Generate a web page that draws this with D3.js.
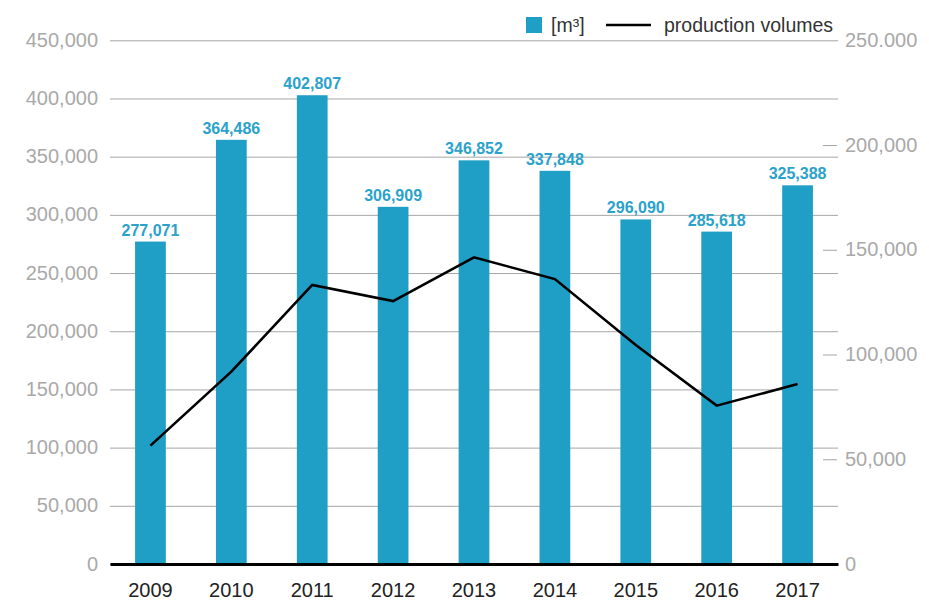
<!DOCTYPE html>
<html>
<head>
<meta charset="utf-8">
<script src="https://cdn.jsdelivr.net/npm/d3@7"></script>
<style>
  body { margin: 0; background: #fff; }
  svg { display: block; font-family: "Liberation Sans", Arial, sans-serif; }
  .left-axis text, .right-axis text { fill: #a9a9a9; font-size: 20px; }
  .left-axis line { stroke: #a6a6a6; }
  .right-axis line { stroke: #a6a6a6; }
  .x-axis text { fill: #222; font-size: 20px; }
  .barlabel { fill: #2aa2cb; font-size: 16px; font-weight: bold; }
  .legend text { fill: #333; font-size: 19.5px; }
</style>
</head>
<body>
<svg id="chart"></svg>
<script>
var years = ["2009","2010","2011","2012","2013","2014","2015","2016","2017"]
var volumes = [277071, 364486, 402807, 306909, 346852, 337848, 296090, 285618, 325388]
var production = [56500, 91800, 133200, 125500, 146400, 136000, 104500, 75600, 85900]
var leftTicks = [0, 50000, 100000, 150000, 200000, 250000, 300000, 350000, 400000, 450000]
var rightTicks = [0, 50000, 100000, 150000, 200000, 250000]

var screen = {width: 929, height: 603}
var plot = {left: 110, right: 838, top: 40.3, bottom: 564}
var barColor = "#1f9fc6"

var svg = d3.select("#chart")
    .attr("width", screen.width)
    .attr("height", screen.height)

var xScale = d3.scaleBand()
    .domain(years)
    .range([plot.left, plot.right])
    .padding(0)

var yLeft = d3.scaleLinear()
    .domain([0, 450000])
    .range([plot.bottom, plot.top])

var yRight = d3.scaleLinear()
    .domain([0, 250000])
    .range([plot.bottom, plot.top])

var fmt = d3.format(",")

// left axis + gridlines
var leftAxis = svg.append("g")
    .attr("class", "left-axis")
    .attr("transform", "translate(" + plot.left + ",0)")
    .call(d3.axisLeft(yLeft)
        .tickValues(leftTicks)
        .tickFormat(fmt)
        .tickSize(-(plot.right - plot.left))
        .tickPadding(12))
leftAxis.select(".domain").remove()
leftAxis.selectAll("text").attr("dy", "0.3em")

// right axis
var rightAxis = svg.append("g")
    .attr("class", "right-axis")
    .attr("transform", "translate(" + (plot.right - 1) + ",0)")
    .call(d3.axisRight(yRight)
        .tickValues(rightTicks)
        .tickFormat(function (d) { return d == 250000 ? "250.000" : fmt(d) })
        .tickSize(-14)
        .tickPadding(8))
rightAxis.select(".domain").remove()
rightAxis.selectAll(".tick")
    .filter(function (d) { return d == 0 || d == 250000 })
    .select("line").remove()
rightAxis.selectAll("text").attr("dy", "0.3em")

// bars
var bw = xScale.bandwidth()
svg.append("g")
    .selectAll("rect")
    .data(volumes)
    .enter()
    .append("rect")
    .attr("x", function (d, i) { return xScale(years[i]) + bw * 0.31 })
    .attr("y", function (d) { return yLeft(d) })
    .attr("width", bw * 0.38)
    .attr("height", function (d) { return plot.bottom - yLeft(d) })
    .attr("fill", barColor)

svg.append("g")
    .selectAll("text")
    .data(volumes)
    .enter()
    .append("text")
    .attr("class", "barlabel")
    .attr("text-anchor", "middle")
    .attr("x", function (d, i) { return xScale(years[i]) + bw / 2 })
    .attr("y", function (d) { return yLeft(d) - 6 })
    .text(function (d) { return fmt(d) })

// bottom axis
var xAxis = svg.append("g")
    .attr("class", "x-axis")
    .attr("transform", "translate(0," + plot.bottom + ")")
    .call(d3.axisBottom(xScale).tickSize(0).tickSizeOuter(0).tickPadding(19))
xAxis.select(".domain")
    .attr("stroke", "#000")
    .attr("stroke-width", 3)

// production line
var line = d3.line()
    .x(function (d, i) { return xScale(years[i]) + bw / 2 })
    .y(function (d) { return yRight(d) })

svg.append("path")
    .datum(production)
    .attr("d", line)
    .attr("fill", "none")
    .attr("stroke", "#000")
    .attr("stroke-width", 2.6)
    .attr("stroke-linejoin", "miter")

// legend
var legend = svg.append("g").attr("class", "legend")
legend.append("rect")
    .attr("x", 526).attr("y", 17)
    .attr("width", 16).attr("height", 16)
    .attr("fill", barColor)
legend.append("text")
    .attr("x", 551).attr("y", 32)
    .text("[m³]")
legend.append("line")
    .attr("x1", 606).attr("x2", 651)
    .attr("y1", 25).attr("y2", 25)
    .attr("stroke", "#000")
    .attr("stroke-width", 2.5)
legend.append("text")
    .attr("x", 664).attr("y", 32)
    .text("production volumes")
</script>
</body>
</html>
